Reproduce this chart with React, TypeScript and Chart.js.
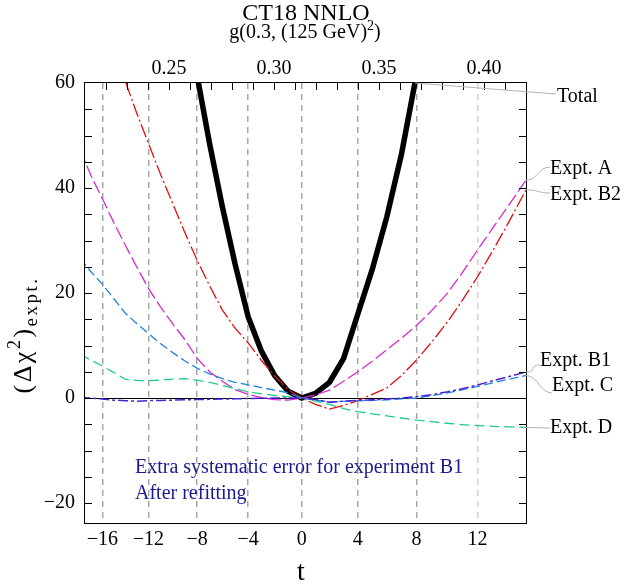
import React, { useEffect, useRef } from 'react';
import { Chart, registerables, LinearScale } from 'chart.js';

Chart.register(...registerables);

// ---------- data ----------
const T = [-18, -17, -16, -15, -14, -13, -12, -11, -10, -9, -8, -7, -6, -5, -4, -3, -2, -1, 0, 1, 2, 3, 4, 5, 6, 7, 8, 9, 10, 11, 12, 13, 14, 15, 16];
const T_TOTAL = [-9, -8, -7, -6, -5, -4, -3, -2, -1, 0, 1, 2, 3, 4, 5, 6, 7, 8, 9];

const TOTAL = [78, 61.5, 48.5, 36.5, 25.5, 15.5, 9.0, 4.3, 1.3, 0, 0.9, 3.0, 7.5, 16.0, 24.5, 34.5, 46.5, 61.5, 78];
const EXPT_A = [47.2, 42.3, 38.0, 33.5, 29.2, 25.0, 20.9, 17.4, 14.2, 11.2, 7.6, 5.0, 3.2, 1.6, 0.7, 0.1, -0.3, -0.4, 0, 0.6, 1.5, 3.2, 5.0, 7.0, 9.2, 11.4, 13.8, 16.6, 19.8, 23.8, 28.2, 32.5, 36.8, 41.2, 45.6];
const EXPT_B2 = [88, 80.5, 73, 66.5, 60.5, 54.3, 48.5, 42.7, 37.2, 31.6, 26.3, 21.4, 16.8, 13.3, 10.5, 7.2, 4.2, 1.6, 0, -1.2, -2.1, -1.4, -0.5, 0.7, 1.9, 4.3, 7.2, 10.6, 14.3, 18.5, 23.1, 28.2, 33.6, 39.3, 45];
const EXPT_B1 = [0.1, 0.0, -0.2, -0.4, -0.5, -0.6, -0.5, -0.45, -0.4, -0.35, -0.3, -0.25, -0.2, -0.15, -0.1, -0.05, 0, 0, 0, -0.3, -0.8, -0.6, -0.45, -0.35, -0.2, 0, 0.25, 0.65, 1.15, 1.75, 2.5, 3.3, 4.1, 4.9, 5.6];
const EXPT_C = [26.6, 24.0, 21.7, 19.0, 16.2, 14.2, 12.3, 10.4, 8.7, 7.1, 5.7, 4.6, 3.7, 3.0, 2.5, 2.0, 1.5, 1.0, 0, -0.4, -0.7, -0.65, -0.55, -0.45, -0.35, -0.15, 0.0, 0.45, 0.95, 1.55, 2.2, 2.9, 3.6, 4.25, 4.9];
const EXPT_D = [8.3, 7.2, 6.1, 4.9, 3.6, 3.35, 3.3, 3.4, 3.6, 3.7, 3.4, 3.0, 2.4, 1.8, 1.2, 0.8, 0.5, 0.25, 0, -0.6, -1.2, -2.0, -2.6, -3.0, -3.4, -3.8, -4.2, -4.5, -4.8, -5.05, -5.25, -5.4, -5.5, -5.6, -5.7];

const T_TICKS = [-16, -12, -8, -4, 0, 4, 8, 12];
const G_TICKS = [0.25, 0.3, 0.35, 0.4];
const G_MINOR = [0.22, 0.23, 0.24, 0.25, 0.26, 0.27, 0.28, 0.29, 0.3, 0.31, 0.32, 0.33, 0.34, 0.35, 0.36, 0.37, 0.38, 0.39, 0.4, 0.41];
const Y_TICKS = [-20, 0, 20, 40, 60];
const Y_MINOR = [-20, -15, -10, -5, 0, 5, 10, 15, 20, 25, 30, 35, 40, 45, 50, 55];
const G_MIN = 0.21;
const G_MAX = 0.42;
const Y_MIN = -23.8;
const Y_MAX = 60;

// relation between t and g(0.3, (125 GeV)^2)
const G0 = 0.3132, GB = 0.00653, GC = 0.0000372;
const tToG = (t: number) => G0 + GB * t + GC * t * t;
const gToT = (g: number) => (-GB + Math.sqrt(GB * GB + 4 * GC * (g - G0))) / (2 * GC);

class WarpScale extends LinearScale {
  static id = 'warp';
  static defaults = LinearScale.defaults;
  getPixelForValue(value: any) {
    if (value === null || value === undefined || isNaN(value)) return NaN;
    const g0 = tToG(this.min), g1 = tToG(this.max);
    return this.getPixelForDecimal((tToG(value) - g0) / (g1 - g0));
  }
  getValueForPixel(pixel: number) {
    const g0 = tToG(this.min), g1 = tToG(this.max);
    return gToT(g0 + this.getDecimalForPixel(pixel) * (g1 - g0));
  }
}
Chart.register(WarpScale as any);

const FONT = '"Liberation Serif", "DejaVu Serif", serif';
const fmt = (v: number) => (v < 0 ? '\u2212' + Math.abs(v) : String(v));

type Part = { text: string; size: number; dy: number };
function drawRich(ctx: CanvasRenderingContext2D, parts: Part[], x: number, y: number, align: 'left' | 'center', spacing = 0) {
  const c: any = ctx;
  c.letterSpacing = spacing + 'px';
  let w = 0;
  const ws = parts.map((p) => {
    ctx.font = `${p.size}px ${FONT}`;
    const m = ctx.measureText(p.text).width;
    w += m;
    return m;
  });
  let cx = align === 'center' ? x - w / 2 : x;
  ctx.textAlign = 'left';
  ctx.textBaseline = 'alphabetic';
  parts.forEach((p, i) => {
    ctx.font = `${p.size}px ${FONT}`;
    ctx.fillText(p.text, cx, y + p.dy);
    cx += ws[i];
  });
  c.letterSpacing = '0px';
}

function edgeY(points: any[], xEdge: number) {
  for (let i = 0; i < points.length - 1; i++) {
    const a = points[i], b = points[i + 1];
    if (a.x <= xEdge && b.x >= xEdge) {
      const f = (xEdge - a.x) / (b.x - a.x);
      return a.y + f * (b.y - a.y);
    }
  }
  return points[points.length - 1].y;
}
function topX(points: any[], yTop: number) {
  for (let i = points.length - 2; i >= 0; i--) {
    const a = points[i], b = points[i + 1];
    if ((a.y - yTop) * (b.y - yTop) <= 0) {
      const f = (yTop - a.y) / (b.y - a.y);
      return a.x + f * (b.x - a.x);
    }
  }
  return points[points.length - 1].x;
}

const LABELS = [
  { text: 'Total', ds: 0, lx: 557, ly: 97, ex: 556, ey: 94, kind: 'top' },
  { text: 'Expt. A', ds: 1, lx: 550, ly: 169, ex: 550, ey: 167, kind: 'curve' },
  { text: 'Expt. B2', ds: 2, lx: 550, ly: 195, ex: 550, ey: 193, kind: 'curve' },
  { text: 'Expt. B1', ds: 3, lx: 540, ly: 361, ex: 540, ey: 365, kind: 'curve' },
  { text: 'Expt. C', ds: 4, lx: 552, ly: 386, ex: 552, ey: 393, kind: 'curve' },
  { text: 'Expt. D', ds: 5, lx: 550, ly: 428, ex: 550, ey: 428, kind: 'line' },
];

const decor = {
  id: 'decor',
  afterDatasetsDraw(chart: any) {
    const ctx: CanvasRenderingContext2D = chart.ctx;
    const { left, right, top, bottom } = chart.chartArea;
    const y = chart.scales.y;
    const xt = chart.scales.xTop;
    ctx.save();
    // frame
    ctx.strokeStyle = '#000';
    ctx.lineWidth = 1;
    ctx.strokeRect(left - 0.5, top - 0.5, right - left + 1, bottom - top + 1);
    // inner ticks
    ctx.beginPath();
    Y_MINOR.forEach((v) => {
      const py = Math.round(y.getPixelForValue(v)) + 0.5;
      ctx.moveTo(left, py); ctx.lineTo(left + 7, py);
      ctx.moveTo(right, py); ctx.lineTo(right - 7, py);
    });
    G_MINOR.forEach((g) => {
      const px = Math.round(xt.getPixelForValue(g)) + 0.5;
      ctx.moveTo(px, top); ctx.lineTo(px, top + 7);
    });
    ctx.stroke();

    // leader lines + labels
    ctx.strokeStyle = '#b4b4b4';
    ctx.lineWidth = 1;
    ctx.fillStyle = '#000';
    LABELS.forEach((L) => {
      const pts = chart.getDatasetMeta(L.ds).data;
      let x0: number, y0: number;
      if (L.kind === 'top') { x0 = topX(pts, top); y0 = top; }
      else { x0 = right; y0 = edgeY(pts, right); }
      ctx.beginPath();
      ctx.moveTo(x0, y0);
      if (L.kind === 'curve') ctx.bezierCurveTo(x0 + 12, y0, L.ex - 12, L.ey, L.ex, L.ey);
      else ctx.lineTo(L.ex, L.ey);
      ctx.stroke();
      ctx.font = `20px ${FONT}`;
      ctx.textAlign = 'left';
      ctx.textBaseline = 'middle';
      ctx.fillText(L.text, L.lx, L.ly);
    });

    // annotation
    ctx.fillStyle = '#1a1a8c';
    ctx.font = `20px ${FONT}`;
    ctx.textAlign = 'left';
    ctx.textBaseline = 'alphabetic';
    ctx.fillText('Extra systematic error for experiment B1', 135, 473);
    ctx.fillText('After refitting', 135, 499);

    // titles
    ctx.fillStyle = '#000';
    drawRich(ctx, [{ text: 'CT18 NNLO', size: 24, dy: 0 }], 306, 20, 'center');
    drawRich(ctx, [
      { text: 'g(0.3, (125 GeV)', size: 20, dy: 0 },
      { text: '2', size: 14, dy: -8 },
      { text: ')', size: 20, dy: 0 },
    ], 305, 38, 'center');
    drawRich(ctx, [{ text: 't', size: 28, dy: 0 }], 301, 580, 'center');

    // y title
    ctx.save();
    ctx.translate(31, 335);
    ctx.rotate(-Math.PI / 2);
    drawRich(ctx, [
      { text: '(\u0394\u03c7', size: 26, dy: 0 },
      { text: '2', size: 18, dy: -11 },
      { text: ')', size: 26, dy: 0 },
      { text: 'expt.', size: 19, dy: 6 },
    ], 0, 0, 'center', 2.5);
    ctx.restore();
    ctx.restore();
  },
};

export default function App() {
  const ref = useRef<HTMLCanvasElement>(null);
  useEffect(() => {
    if (!ref.current) return;
    const mk = (xs: number[], ys: number[]) => xs.map((x, i) => ({ x, y: ys[i] }));
    const common = { pointRadius: 0, tension: 0, fill: false, clip: 0, xAxisID: 'x', yAxisID: 'y' };
    const chart = new Chart(ref.current, {
      type: 'line',
      data: {
        datasets: [
          { ...common, label: 'Total', data: mk(T_TOTAL, TOTAL), borderColor: '#000', borderWidth: 5.5, order: 10 },
          { ...common, label: 'Expt. A', data: mk(T, EXPT_A), borderColor: '#d62bd0', borderWidth: 1.3, borderDash: [13, 4], order: 5 },
          { ...common, label: 'Expt. B2', data: mk(T, EXPT_B2), borderColor: '#e01010', borderWidth: 1.3, borderDash: [14, 3, 2, 3], order: 4 },
          { ...common, label: 'Expt. B1', data: mk(T, EXPT_B1), borderColor: '#4a22d6', borderWidth: 1.5, borderDash: [10, 3, 3, 3], order: 1 },
          { ...common, label: 'Expt. C', data: mk(T, EXPT_C), borderColor: '#2383de', borderWidth: 1.3, borderDash: [9, 4], order: 2 },
          { ...common, label: 'Expt. D', data: mk(T, EXPT_D), borderColor: '#22cc8c', borderWidth: 1.3, borderDash: [10, 5], order: 3 },
        ] as any,
      },
      options: {
        animation: false,
        responsive: false,
        events: [],
        layout: { padding: { left: 0, right: 98, top: 0, bottom: 0 } },
        plugins: { legend: { display: false }, title: { display: false }, tooltip: { enabled: false } },
        scales: {
          x: {
            type: 'warp' as any,
            position: 'bottom',
            min: gToT(G_MIN),
            max: gToT(G_MAX),
            afterBuildTicks: (s: any) => { s.ticks = T_TICKS.map((v) => ({ value: v })); },
            afterFit: (s: any) => { s.height = 61; },
            grid: {
              drawTicks: false,
              lineWidth: 1.5,
              color: (c: any) => (c.tick && c.tick.value === 12 ? '#d0d0d0' : '#a8a8a8'),
            },
            border: { display: false, dash: [6, 5] },
            ticks: { padding: 5, color: '#000', autoSkip: false, maxRotation: 0, font: { family: FONT, size: 20 }, callback: (v: any) => fmt(Number(v)) },
          } as any,
          xTop: {
            type: 'linear',
            axis: 'x',
            position: 'top',
            min: G_MIN,
            max: G_MAX,
            afterBuildTicks: (s: any) => { s.ticks = G_TICKS.map((v) => ({ value: v })); },
            afterFit: (s: any) => { s.height = 83; },
            grid: { display: false, drawTicks: false },
            border: { display: false },
            ticks: { padding: 2, color: '#000', autoSkip: false, maxRotation: 0, font: { family: FONT, size: 20 }, callback: (v: any) => Number(v).toFixed(2) },
          } as any,
          y: {
            type: 'linear',
            min: Y_MIN,
            max: Y_MAX,
            afterBuildTicks: (s: any) => { s.ticks = Y_TICKS.map((v) => ({ value: v })); },
            afterFit: (s: any) => { s.width = 85; },
            grid: {
              drawTicks: false,
              lineWidth: 1,
              color: (c: any) => (c.tick && c.tick.value === 0 ? '#000' : 'rgba(0,0,0,0)'),
            },
            border: { display: false },
            ticks: { padding: 10, color: '#000', autoSkip: false, font: { family: FONT, size: 20 }, callback: (v: any) => fmt(Number(v)) },
          } as any,
        },
      },
      plugins: [decor],
    });
    return () => chart.destroy();
  }, []);
  return (
    <div style={{ position: 'absolute', left: 0, top: 0, width: 624, height: 584 }}>
      <canvas ref={ref} width={624} height={584} style={{ display: 'block' }} />
    </div>
  );
}
